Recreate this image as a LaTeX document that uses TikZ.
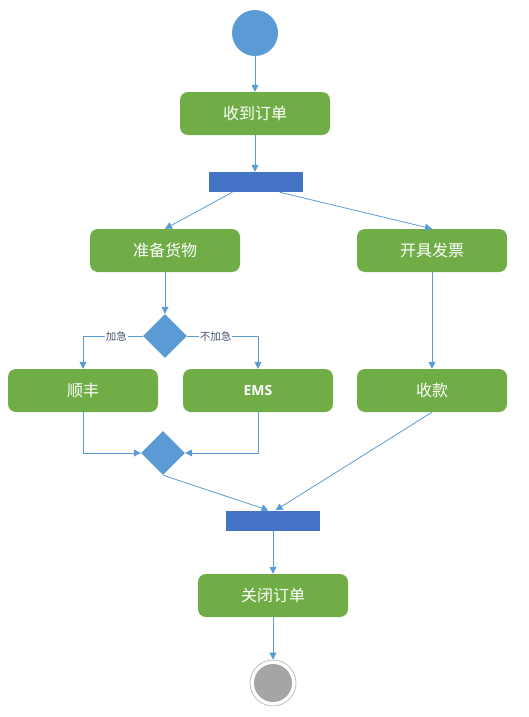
\documentclass[tikz,border=0pt]{standalone}
\usepackage{fontspec}
\newfontfamily\cjk{Noto Sans CJK SC}
\newfontfamily\emsfont{Open Sans}
\usetikzlibrary{shapes.geometric,arrows.meta,calc}
\definecolor{actgreen}{HTML}{70AD47}
\definecolor{flowblue}{HTML}{5B9BD5}
\definecolor{barblue}{HTML}{4472C4}
\definecolor{endgray}{HTML}{A5A5A5}
\definecolor{guardtext}{HTML}{44546A}

\tikzset{
	act/.style={fill=actgreen,rounded corners=8pt,minimum width=150pt,minimum height=43pt,
		inner sep=0pt,text=white,font=\cjk\fontsize{16}{16}\selectfont},
	bar/.style={fill=barblue,minimum width=94pt,minimum height=20pt,inner sep=0pt},
	choice/.style={diamond,fill=flowblue,minimum size=44pt,inner sep=0pt},
	flow/.style={flowblue,line width=0.8pt,-{Triangle[width=7pt,length=7pt]}},
	guard/.style={fill=white,inner sep=1pt,text=guardtext,font=\cjk\fontsize{10.5}{10.5}\selectfont}
}

\begin{document}
\begin{tikzpicture}[x=1pt,y=-1pt]
\useasboundingbox (0,0) rectangle (529,717);
%Knoten
\node[circle,fill=flowblue,minimum size=46pt,inner sep=0pt] (start) at (255,33) {};
\node[act] (recv) at (255,113.5) {收到订单};
\node[bar] (fork) at (256,182) {};
\node[act] (prep) at (165,250.5) {准备货物};
\node[act] (bill) at (432,250.5) {开具发票};
\node[choice] (ask) at (165,336) {};
\node[act] (sf) at (83,390.5) {顺丰};
\node[act,font=\emsfont\bfseries\fontsize{14}{14}\selectfont] (ems) at (258,390.5) {EMS};
\node[act] (pay) at (432,390.5) {收款};
\node[choice] (merge) at (163,453) {};
\node[bar] (join) at (272.5,520.5) {};
\node[act] (close) at (273,595.5) {关闭订单};
\node[circle,draw=black!25,line width=0.8pt,fill=white,minimum size=46pt,inner sep=0pt] (stop) at (273,683) {};
\node[circle,fill=endgray,minimum size=38pt,inner sep=0pt] (stopdot) at (273,683) {};
%Pfeile
\draw[flow] (start) -- (recv);
\draw[flow] (recv) -- (recv|-fork.north);
\draw[flow] ($(fork.south west)!0.25!(fork.south east)$) -- (prep.north);
\draw[flow] ($(fork.south west)!0.75!(fork.south east)$) -- (bill.north);
\draw[flow] (prep) -- (ask);
\draw[flow] (ask.west) -| node[guard,pos=0.22] {加急} (sf.north);
\draw[flow] (ask.east) -| node[guard,pos=0.2] {不加急} (ems.north);
\draw[flow] (bill) -- (pay);
\draw[flow] (sf.south) |- (merge.west);
\draw[flow] (ems.south) |- (merge.east);
\draw[flow] (merge.south) -- ($(join.north)+(-4,0)$);
\draw[flow] (pay.south) -- ($(join.north)+(3,0)$);
\draw[flow] (join.south-|close) -- (close);
\draw[flow] (close) -- (stop.north);
\end{tikzpicture}
\end{document}
